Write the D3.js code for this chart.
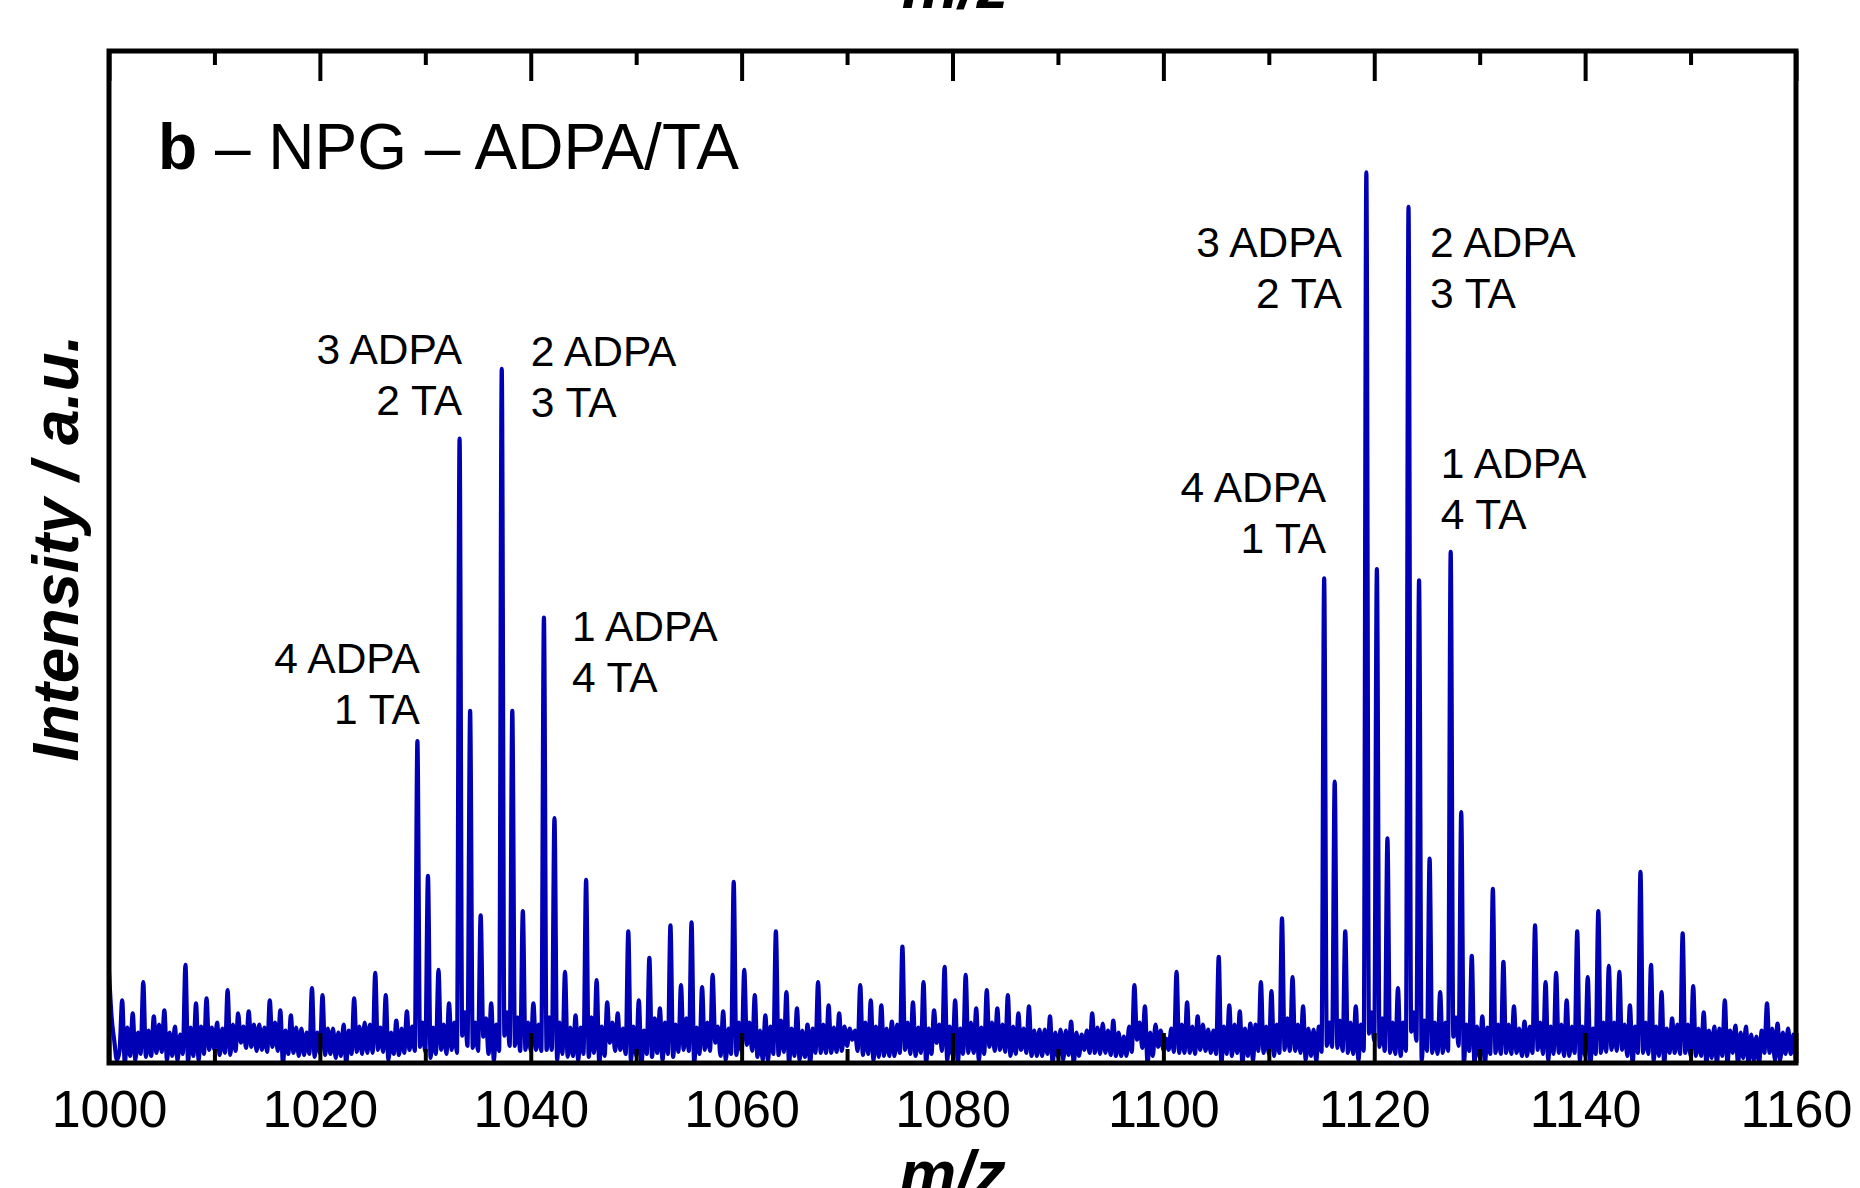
<!DOCTYPE html>
<html>
<head>
<meta charset="utf-8">
<script src="https://cdn.jsdelivr.net/npm/d3@7"></script>
<style>
  body { margin: 0; background: #fff; }
  svg { display: block; }
  text { font-family: "Liberation Sans", Arial, sans-serif; fill: #000; }
</style>
</head>
<body>
<svg></svg>
<script>
// spectrum sampled on a regular m/z grid (start, step), intensity in % of panel height
var mzStart = 1000;
var mzStep = 0.25;
var intensity = [
  // 1000 - 1009
  9.0,4.5,2.2,0.3, 1.2,6.2,0.0,3.5, 0.7,4.9,0.3,3.0, 0.9,8.0,0.6,3.2, 0.7,4.6,1.0,3.8,
  1.1,5.2,0.3,3.0, 0.7,3.6,0.3,2.8, 0.9,9.7,0.2,3.5, 0.7,5.9,0.3,3.6, 0.9,6.4,1.3,3.5,
  // 1010 - 1019
  1.3,4.0,0.8,3.4, 1.0,7.2,0.8,3.8, 1.2,4.9,2.0,3.6, 1.5,5.1,1.6,3.8, 1.2,3.8,1.3,3.5,
  1.1,6.2,1.6,4.0, 1.2,5.2,0.0,3.2, 0.9,4.7,1.0,3.5, 0.7,3.4,0.8,3.0, 0.9,7.4,0.6,3.0,
  // 1020 - 1029
  1.0,6.7,0.8,3.4, 0.9,3.4,0.5,3.0, 0.7,3.8,0.0,3.2, 0.9,6.4,1.1,3.6, 0.9,4.0,1.0,3.8,
  1.0,8.9,1.3,3.5, 1.1,6.7,0.3,3.0, 0.9,4.2,0.8,3.4, 1.0,5.1,1.3,3.6, 1.2,31.8,1.6,4.0,
  // 1030 - 1039
  1.1,18.5,0.5,3.5, 0.9,9.2,1.3,3.8, 0.9,5.9,1.3,4.0, 1.0,61.7,2.7,5.0, 1.7,34.8,1.5,4.0,
  1.2,14.6,2.6,4.4, 0.9,5.9,0.3,3.8, 1.2,68.6,2.7,5.0, 1.7,34.8,1.7,4.5, 1.2,15.0,1.3,4.0,
  // 1040 - 1049
  1.2,5.9,1.3,3.8, 1.2,44.0,1.3,4.5, 1.3,24.2,0.3,4.0, 0.9,9.0,0.6,3.5, 0.7,4.7,0.3,3.5,
  0.9,18.1,0.6,4.5, 1.0,8.2,0.0,3.6, 0.7,6.0,2.0,4.0, 1.2,4.9,1.3,3.4, 0.9,13.0,0.3,3.6,
  // 1050 - 1059
  0.7,6.2,0.0,3.2, 0.9,10.4,0.6,4.4, 1.0,5.4,0.3,4.0, 0.9,13.6,0.6,3.8, 1.1,7.7,1.3,4.4,
  1.2,13.9,0.0,3.5, 0.9,7.5,1.3,4.0, 1.2,8.7,2.0,3.6, 0.7,5.1,0.3,3.4, 0.9,17.9,0.8,4.0,
  // 1060 - 1069
  1.1,9.2,1.8,4.0, 1.2,6.7,0.6,3.2, 0.3,4.7,0.3,3.6, 0.9,13.0,0.8,4.2, 1.1,7.0,0.0,3.4,
  0.7,5.4,0.3,3.2, 0.6,3.8,0.0,3.4, 1.0,8.0,1.0,3.8, 1.0,5.7,1.0,3.5, 1.1,4.9,1.2,3.6,
  // 1070 - 1079
  1.7,3.4,2.3,3.2, 1.2,7.7,0.8,4.0, 0.9,6.2,0.3,3.6, 0.6,5.7,0.7,3.4, 0.7,4.1,0.7,3.8,
  1.0,11.5,1.3,4.0, 0.9,6.0,0.7,3.5, 1.0,8.0,0.0,3.4, 0.9,5.2,2.0,3.8, 1.2,9.5,0.3,3.6,
  // 1080 - 1089
  0.8,6.2,0.0,3.4, 0.9,8.7,1.0,4.0, 1.0,5.4,0.3,3.5, 0.9,7.2,1.6,4.0, 1.2,5.4,1.3,3.8,
  1.1,6.7,0.7,3.6, 0.9,4.9,1.3,3.4, 1.0,5.6,0.7,3.2, 0.7,3.3,0.7,3.3, 0.9,4.6,0.0,3.0,
  // 1090 - 1099
  0.6,3.3,0.3,3.2, 0.8,4.1,0.0,3.0, 0.7,2.8,1.3,3.2, 1.0,4.9,1.0,3.5, 0.9,3.9,1.0,3.2,
  0.8,4.2,0.7,3.0, 0.7,2.6,0.7,3.6, 1.1,7.7,2.3,4.0, 1.5,5.6,0.0,3.0, 0.7,3.8,1.6,3.2,
  // 1100 - 1109
  1.3,2.4,1.3,3.4, 1.1,9.0,1.0,3.8, 1.0,6.0,1.0,3.6, 0.9,4.6,1.3,3.8, 1.2,3.3,1.0,3.2,
  0.9,10.5,0.0,3.6, 0.9,5.7,0.7,3.8, 1.0,5.1,0.0,3.4, 0.7,3.9,0.3,3.8, 1.2,8.0,1.0,3.6,
  // 1110 - 1119
  0.9,7.1,0.7,3.8, 1.0,14.3,1.3,4.4, 1.2,8.5,1.2,3.8, 1.0,5.6,0.3,3.4, 0.7,3.3,0.2,3.6,
  1.1,47.9,1.7,4.0, 1.6,27.8,1.5,4.2, 1.2,13.0,1.0,4.0, 0.9,5.6,0.3,3.8, 1.2,88.0,2.9,5.0,
  // 1120 - 1129
  2.2,48.8,1.6,4.4, 1.2,22.2,1.0,4.0, 0.9,7.4,0.7,4.0, 1.2,84.6,3.1,5.0, 2.2,47.7,0.3,4.2,
  1.2,20.2,1.0,4.0, 0.9,7.0,1.0,4.0, 1.2,50.5,2.6,4.5, 1.7,24.8,0.0,3.8, 1.2,10.6,0.0,3.6,
  // 1130 - 1139
  0.5,4.6,0.0,3.5, 0.9,17.2,1.0,3.8, 0.9,10.0,1.0,3.8, 0.9,5.6,1.0,3.4, 0.7,4.1,0.7,3.6,
  1.0,13.6,1.3,4.0, 0.9,8.0,0.3,3.6, 0.9,8.9,1.0,3.8, 0.7,6.2,0.7,3.6, 1.0,13.0,0.3,3.6,
  // 1140 - 1149
  0.7,8.5,0.0,3.4, 0.9,15.0,1.0,4.0, 1.1,9.6,1.3,4.0, 1.2,9.0,1.3,3.8, 0.7,5.7,0.0,3.6,
  1.0,18.9,1.0,4.0, 0.9,9.7,0.3,3.6, 0.7,7.0,0.0,3.4, 1.0,4.4,1.0,3.8, 0.9,12.8,1.0,3.8,
  // 1150 - 1160
  0.7,7.6,0.7,3.4, 0.7,5.0,0.0,3.2, 0.5,3.6,0.0,3.4, 0.7,6.2,0.0,3.2, 1.0,3.7,0.0,3.0,
  0.5,3.6,0.0,2.8, 0.3,2.6,0.0,3.2, 1.0,5.9,1.0,3.4, 0.3,3.9,0.3,3.0, 0.9,3.4,0.9,2.8,
  0.0
];

var majorTicks = [1000, 1020, 1040, 1060, 1080, 1100, 1120, 1140, 1160];
var minorTicks = [1010, 1030, 1050, 1070, 1090, 1110, 1130, 1150];

// peak annotations: peak m/z, two text lines, label baseline level (intensity)
var labelMz = [1029.3, 1033.3, 1037.25, 1041.15, 1115.35, 1119.3, 1123.3, 1127.25];
var labelLine1 = ["4 ADPA", "3 ADPA", "2 ADPA", "1 ADPA", "4 ADPA", "3 ADPA", "2 ADPA", "1 ADPA"];
var labelLine2 = ["1 TA", "2 TA", "3 TA", "4 TA", "1 TA", "2 TA", "3 TA", "4 TA"];
var labelLevel = [38.5, 69.1, 68.9, 41.7, 55.4, 79.6, 79.6, 57.8];

var W = 1860, H = 1188;
var plotLeft = 109, plotRight = 1796, plotTop = 51, plotBottom = 1063;

var svg = d3.select("svg").attr("width", W).attr("height", H);
svg.append("rect").attr("width", W).attr("height", H).attr("fill", "#fff");

var x = d3.scaleLinear().domain([1000, 1160]).range([plotLeft, plotRight]);
var y = d3.scaleLinear().domain([0, 100]).range([plotBottom, plotTop]);

var points = intensity.map(function(v, i) {
    return [mzStart + i * mzStep, v];
});

var line = d3.line()
    .x(function(d) { return x(d[0]); })
    .y(function(d) { return y(d[1]); })
    .curve(d3.curveMonotoneX);

svg.append("path")
    .datum(points)
    .attr("d", line)
    .attr("fill", "none")
    .attr("stroke", "#0000b4")
    .attr("stroke-width", 4.2)
    .attr("stroke-linejoin", "round");

// axes: ticks point inward
function styleAxis(g) {
    g.select(".domain").remove();
    g.selectAll(".tick line").attr("stroke", "#000").attr("stroke-width", 4);
    g.selectAll(".tick text").style("font-size", "52px").style("font-family", '"Liberation Sans", Arial, sans-serif').attr("fill", "#000");
}

svg.append("g")
    .attr("transform", "translate(0," + plotBottom + ")")
    .call(d3.axisBottom(x).tickValues(majorTicks).tickSize(-30).tickPadding(27).tickFormat(d3.format("d")))
    .call(styleAxis);

svg.append("g")
    .attr("transform", "translate(0," + plotBottom + ")")
    .call(d3.axisBottom(x).tickValues(minorTicks).tickSize(-14).tickFormat(""))
    .call(styleAxis);

svg.append("g")
    .attr("transform", "translate(0," + plotTop + ")")
    .call(d3.axisTop(x).tickValues(majorTicks).tickSize(-30).tickFormat(""))
    .call(styleAxis);

svg.append("g")
    .attr("transform", "translate(0," + plotTop + ")")
    .call(d3.axisTop(x).tickValues(minorTicks).tickSize(-14).tickFormat(""))
    .call(styleAxis);

// frame
svg.append("rect")
    .attr("x", plotLeft).attr("y", plotTop)
    .attr("width", plotRight - plotLeft).attr("height", plotBottom - plotTop)
    .attr("fill", "none")
    .attr("stroke", "#000")
    .attr("stroke-width", 5);

// axis titles
svg.append("text")
    .attr("x", (plotLeft + plotRight) / 2).attr("y", 1196)
    .attr("text-anchor", "middle")
    .style("font-size", "64px").style("font-weight", "bold").style("font-style", "italic")
    .text("m/z");

// bottom of the previous panel's x title
svg.append("text")
    .attr("x", 955).attr("y", 8)
    .attr("text-anchor", "middle")
    .style("font-size", "64px").style("font-weight", "bold").style("font-style", "italic")
    .text("m/z");

svg.append("text")
    .attr("transform", "translate(78,548) rotate(-90)")
    .attr("text-anchor", "middle")
    .style("font-size", "64px").style("font-weight", "bold").style("font-style", "italic")
    .text("Intensity / a.u.");

// panel title
var title = svg.append("text")
    .attr("x", 158).attr("y", 169)
    .style("font-size", "64px");
title.append("tspan").style("font-weight", "bold").text("b");
title.append("tspan").text(" \u2013 NPG \u2013 ADPA/TA");

// peak labels: left of peak (anchor end) or right of peak (anchor start)
var labelSide = ["end", "end", "start", "start", "end", "end", "start", "start"];
var labelDx = [2, 2, 29, 29, 1, -25, 21, -10];

labelMz.forEach(function(m, i) {
    var t = svg.append("text")
        .attr("x", x(m) + labelDx[i])
        .attr("y", y(labelLevel[i]))
        .attr("text-anchor", labelSide[i])
        .style("font-size", "42.5px");
    t.append("tspan").attr("x", x(m) + labelDx[i]).text(labelLine1[i]);
    t.append("tspan").attr("x", x(m) + labelDx[i]).attr("dy", 51).text(labelLine2[i]);
});
</script>
</body>
</html>
